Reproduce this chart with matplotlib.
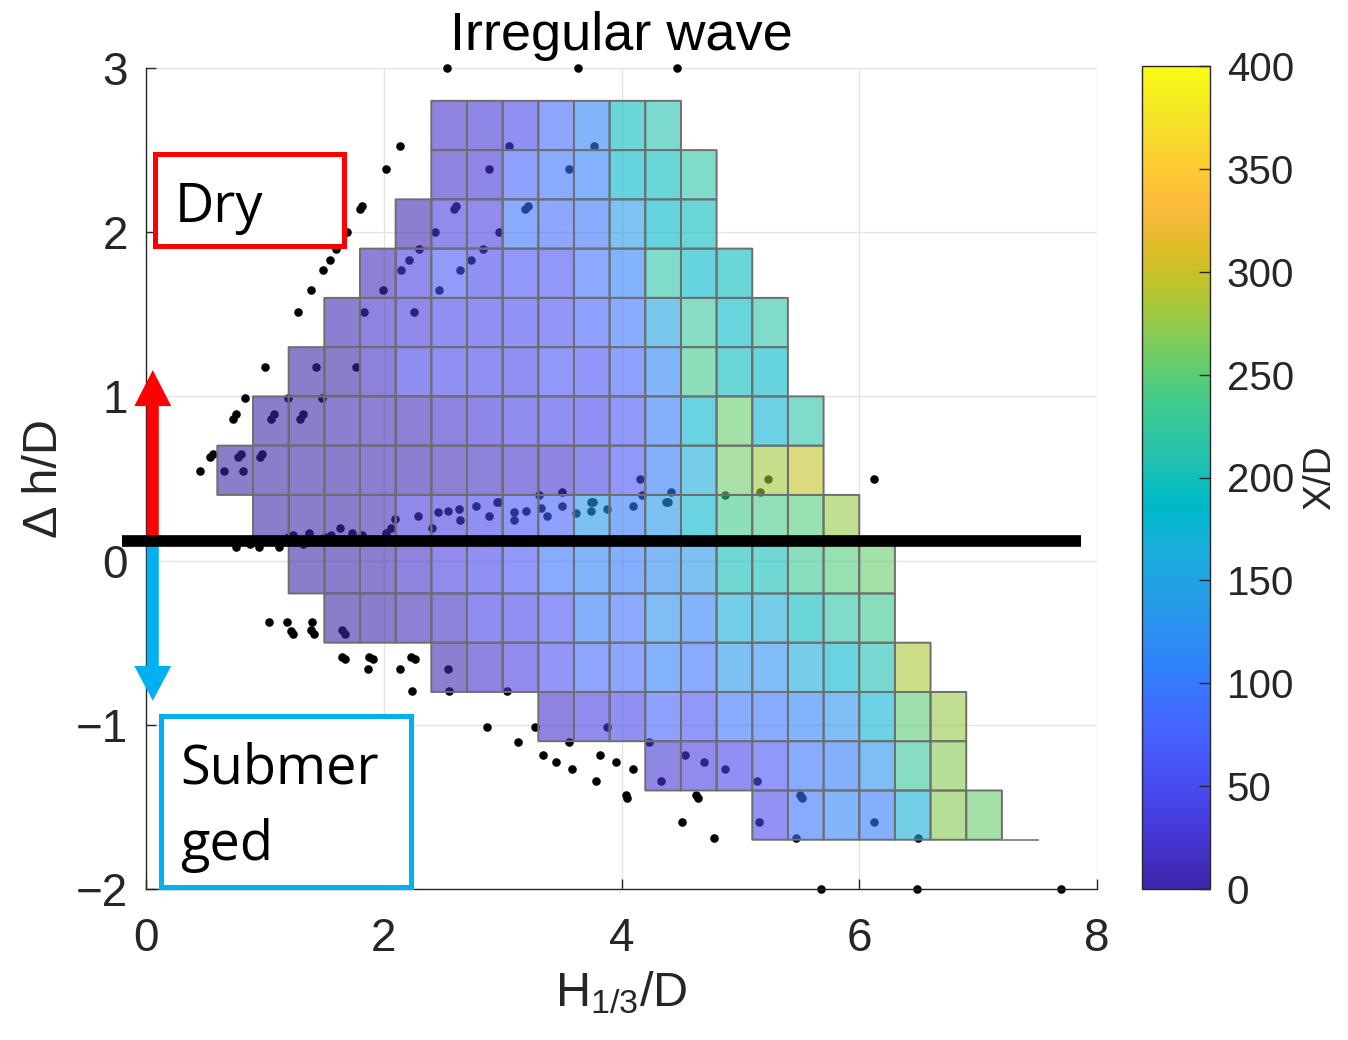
import numpy as np
import matplotlib
matplotlib.use('Agg')
import matplotlib.pyplot as plt
from matplotlib.colors import LinearSegmentedColormap, Normalize
from matplotlib.patches import Rectangle, FancyArrow
import matplotlib.cm as cm

plt.rcParams['font.family'] = ['Liberation Sans', 'DejaVu Sans']
plt.rcParams['mathtext.fontset'] = 'custom'
plt.rcParams['mathtext.rm'] = 'Liberation Sans'
plt.rcParams['mathtext.it'] = 'Liberation Sans:italic'

# ---------------- parula colormap (MATLAB) ----------------
PARULA = [
    [0.2422, 0.1504, 0.6603], [0.2504, 0.1650, 0.7076], [0.2578, 0.1818, 0.7511],
    [0.2647, 0.1978, 0.7952], [0.2706, 0.2147, 0.8364], [0.2751, 0.2342, 0.8710],
    [0.2783, 0.2559, 0.8991], [0.2803, 0.2782, 0.9221], [0.2813, 0.3006, 0.9414],
    [0.2810, 0.3228, 0.9579], [0.2795, 0.3447, 0.9717], [0.2760, 0.3667, 0.9829],
    [0.2699, 0.3892, 0.9906], [0.2602, 0.4123, 0.9952], [0.2440, 0.4358, 0.9988],
    [0.2206, 0.4603, 0.9973], [0.1963, 0.4847, 0.9892], [0.1834, 0.5074, 0.9798],
    [0.1786, 0.5289, 0.9682], [0.1764, 0.5499, 0.9520], [0.1687, 0.5703, 0.9359],
    [0.1540, 0.5902, 0.9218], [0.1460, 0.6091, 0.9079], [0.1380, 0.6276, 0.8973],
    [0.1248, 0.6459, 0.8883], [0.1113, 0.6635, 0.8763], [0.0952, 0.6798, 0.8598],
    [0.0689, 0.6948, 0.8394], [0.0297, 0.7082, 0.8163], [0.0036, 0.7203, 0.7917],
    [0.0067, 0.7312, 0.7660], [0.0433, 0.7411, 0.7394], [0.0964, 0.7500, 0.7120],
    [0.1408, 0.7584, 0.6842], [0.1717, 0.7670, 0.6554], [0.1938, 0.7758, 0.6251],
    [0.2161, 0.7843, 0.5923], [0.2470, 0.7918, 0.5567], [0.2906, 0.7973, 0.5188],
    [0.3406, 0.8008, 0.4789], [0.3909, 0.8029, 0.4354], [0.4456, 0.8024, 0.3909],
    [0.5044, 0.7993, 0.3480], [0.5616, 0.7942, 0.3045], [0.6174, 0.7876, 0.2612],
    [0.6720, 0.7793, 0.2227], [0.7242, 0.7698, 0.1910], [0.7738, 0.7598, 0.1646],
    [0.8203, 0.7498, 0.1535], [0.8634, 0.7406, 0.1596], [0.9035, 0.7330, 0.1774],
    [0.9393, 0.7288, 0.2100], [0.9728, 0.7298, 0.2394], [0.9956, 0.7434, 0.2371],
    [0.9970, 0.7659, 0.2199], [0.9952, 0.7893, 0.2028], [0.9892, 0.8136, 0.1885],
    [0.9786, 0.8386, 0.1766], [0.9676, 0.8639, 0.1643], [0.9610, 0.8890, 0.1537],
    [0.9597, 0.9135, 0.1423], [0.9628, 0.9373, 0.1265], [0.9691, 0.9606, 0.1064],
    [0.9769, 0.9839, 0.0805]]
FACE_ALPHA = 0.6
parula = LinearSegmentedColormap.from_list('parula', PARULA, N=256)
parula_faces = LinearSegmentedColormap.from_list('parula_a', [c + [FACE_ALPHA] for c in PARULA], N=256)

# ---------------- data ----------------
# cell grid (0.3 x 0.3 bins): bottom edge of each row, left edge of first cell, X/D values
row_bottom = [2.5, 2.2, 1.9, 1.6, 1.3, 1.0, 0.7, 0.4, 0.1, -0.2, -0.5, -0.8, -1.1, -1.4, -1.7]
row_xstart = [2.4, 2.4, 2.1, 1.8, 1.5, 1.2, 0.9, 0.6, 0.9, 1.2, 1.5, 2.4, 3.3, 4.2, 5.1]
row_values = [
    [20, 25, 45, 80, 110, 195, 210],
    [20, 25, 75, 95, 105, 185, 195, 215],
    [5, 35, 35, 95, 85, 95, 140, 185, 195],
    [10, 35, 65, 45, 60, 60, 90, 110, 215, 185, 195],
    [5, 20, 30, 45, 45, 50, 55, 75, 95, 150, 225, 190, 215],
    [0, 0, 15, 40, 45, 45, 45, 60, 55, 75, 115, 235, 195, 185],
    [0, 0, 5, 10, 10, 20, 28, 38, 45, 45, 62, 100, 180, 255, 175, 215],
    [0, 0, 0, 2, 5, 5, 10, 15, 18, 22, 38, 58, 100, 165, 258, 280, 298],
    [0, 0, 2, 5, 30, 35, 45, 62, 75, 135, 100, 135, 180, 235, 240, 245, 275],
    [0, 3, 5, 20, 35, 45, 60, 95, 110, 100, 120, 135, 200, 200, 230, 245, 255],
    [0, 3, 10, 15, 40, 45, 60, 100, 90, 125, 110, 170, 165, 195, 215, 230],
    [5, 18, 35, 55, 80, 85, 105, 95, 135, 125, 165, 180, 205, 285],
    [20, 35, 45, 75, 60, 95, 95, 110, 125, 175, 250, 275],
    [25, 35, 45, 60, 95, 100, 130, 225, 270],
    [48, 95, 115, 100, 170, 270, 255],
]

# measured points (H1/3/D, dh/D)
pts_x = [2.53, 3.63, 4.47,
         2.14, 2.016, 1.80, 1.82, 1.693, 1.60, 1.548, 1.49, 1.39, 1.28,
         0.998, 0.835, 0.73, 0.755, 0.54, 0.56, 0.457, 0.658,
         2.884, 2.59, 2.61, 2.43, 2.30, 2.21, 2.145, 1.996, 1.83,
         1.427, 1.197, 1.055, 1.077, 0.775, 0.797, 0.818,
         3.056, 2.467, 2.64, 2.733, 2.837, 2.97, 2.257, 1.764, 1.478, 1.295, 1.317, 0.96, 0.98,
         3.77, 3.56, 3.19, 3.21,
         0.757, 0.875, 0.953, 1.121, 1.197, 1.233, 1.323, 1.371, 1.505, 1.553, 1.632, 1.73,
         1.814, 2.019, 2.06, 2.094, 2.29, 2.41, 2.453, 2.537, 2.632, 2.64, 2.775, 2.884,
         2.95, 2.97, 3.095, 3.095, 3.20, 3.32, 3.375, 3.50, 3.617, 3.74, 3.76, 3.74, 3.88,
         4.093, 4.375, 4.395,
         3.305, 3.50, 4.174, 4.155, 4.415, 4.872, 5.164, 5.236, 6.122,
         1.035, 1.183, 1.22, 1.24, 1.40, 1.39, 1.415, 1.65, 1.675, 1.645, 1.67, 1.88, 1.91,
         1.87, 2.23, 2.26, 2.14, 2.235, 2.537, 2.553, 3.033, 2.865, 3.27, 3.126, 3.34, 3.453,
         3.58, 3.56, 3.876, 3.785, 3.82, 3.95, 4.10, 4.035, 4.05, 4.233, 4.33, 4.536, 4.69,
         4.87, 4.625, 4.64, 4.505, 4.776, 5.142, 5.155, 5.50, 5.515, 5.464, 6.124, 6.492,
         5.676, 6.484, 7.70]
pts_y = [3.0, 3.0, 3.0,
         2.527, 2.383, 2.14, 2.16, 2.003, 1.90, 1.83, 1.77, 1.65, 1.514,
         1.181, 0.988, 0.86, 0.89, 0.63, 0.65, 0.548, 0.548,
         2.383, 2.14, 2.16, 2.003, 1.90, 1.83, 1.768, 1.65, 1.514,
         1.181, 0.988, 0.86, 0.89, 0.63, 0.65, 0.548,
         2.525, 1.65, 1.768, 1.83, 1.90, 2.003, 1.514, 1.181, 0.988, 0.86, 0.89, 0.63, 0.65,
         2.525, 2.383, 2.14, 2.16,
         0.085, 0.101, 0.085, 0.085, 0.146, 0.156, 0.101, 0.166, 0.146, 0.156, 0.197, 0.170,
         0.156, 0.166, 0.197, 0.252, 0.274, 0.197, 0.294, 0.304, 0.314, 0.247, 0.334, 0.274,
         0.355, 0.355, 0.294, 0.247, 0.304, 0.318, 0.274, 0.333, 0.292, 0.355, 0.355, 0.304, 0.314,
         0.333, 0.355, 0.355,
         0.397, 0.419, 0.397, 0.499, 0.419, 0.397, 0.419, 0.499, 0.499,
         -0.372, -0.372, -0.43, -0.445, -0.372, -0.425, -0.445, -0.425, -0.445, -0.585, -0.60, -0.585, -0.60,
         -0.662, -0.585, -0.60, -0.662, -0.792, -0.662, -0.792, -0.792, -1.012, -1.012, -1.107, -1.184, -1.225,
         -1.27, -1.107, -1.013, -1.34, -1.184, -1.225, -1.27, -1.43, -1.445, -1.107, -1.34, -1.184, -1.225,
         -1.27, -1.43, -1.445, -1.594, -1.688, -1.34, -1.594, -1.43, -1.445, -1.688, -1.594, -1.688,
         -2.0, -2.0, -2.0]

threshold_y = 0.12          # dry / submerged boundary
x_ticks = [0, 2, 4, 6, 8]
y_ticks = [-2, -1, 0, 1, 2, 3]
cbar_ticks = [0, 50, 100, 150, 200, 250, 300, 350, 400]

# ---------------- figure ----------------
W, H = 1348, 1040
fig = plt.figure(figsize=(W / 100, H / 100), dpi=100)
ax = fig.add_axes([146 / W, 1 - 889 / H, (1097 - 146) / W, (889 - 68) / H])
cax = fig.add_axes([1142 / W, 1 - 889 / H, (1210 - 1142) / W, (889 - 66) / H])

txt = '#262626'
TICK_FS = 33
LABEL_FS = 35

# grid of cells
x_edges = np.round(np.arange(0.6, 7.5 + 1e-9, 0.3), 2)
y_edges = np.round(np.arange(-1.7, 2.8 + 1e-9, 0.3), 2)
Z = np.full((len(y_edges) - 1, len(x_edges) - 1), np.nan)
for yb, xs, vals in zip(row_bottom, row_xstart, row_values):
    i = int(round((yb - y_edges[0]) / 0.3))
    j0 = int(round((xs - x_edges[0]) / 0.3))
    Z[i, j0:j0 + len(vals)] = vals
Zm = np.ma.masked_invalid(Z)

ax.scatter(pts_x, pts_y, s=38, color='black', zorder=2, clip_on=False, linewidths=0)
ax.pcolor(x_edges, y_edges, Zm, cmap=parula_faces, vmin=0, vmax=400,
          edgecolors='#6e6e6e', linewidth=1.4, zorder=3)
# closing edge at the bottom right of the grid
ax.plot([x_edges[-2], x_edges[-1]], [y_edges[0], y_edges[0]], color='#8a8a8a', lw=1.4, zorder=3)

ax.set_xlim(0, 8)
ax.set_ylim(-2, 3)
ax.set_xticks(x_ticks)
ax.set_yticks(y_ticks)
ax.grid(True, color='#e4e4e4', lw=1.0, zorder=0)
ax.set_axisbelow(True)
for s in ['top', 'right']:
    ax.spines[s].set_visible(False)
for s in ['left', 'bottom']:
    ax.spines[s].set_color(txt)
    ax.spines[s].set_linewidth(1.0)
ax.tick_params(direction='in', length=7, width=1.0, colors=txt, labelsize=TICK_FS)
ax.tick_params(axis='y', pad=13)
ax.tick_params(axis='x', pad=20)

ax.set_title('Irregular wave', fontsize=39, color='black', pad=13)
ax.set_xlabel(r'H$_{\mathregular{1/3}}$/D', fontsize=LABEL_FS, color=txt, labelpad=6)
ax.set_ylabel('Δ h/D', fontsize=LABEL_FS, color=txt, labelpad=6)

# arrows and boundary line
ax.add_patch(FancyArrow(0.057, threshold_y, 0, 1.16 - threshold_y, width=0.101,
                        head_width=0.311, head_length=0.219, length_includes_head=True,
                        color='#ff0000', lw=0, zorder=5, clip_on=False))
ax.add_patch(FancyArrow(0.057, threshold_y, 0, -0.853 - threshold_y, width=0.101,
                        head_width=0.311, head_length=0.211, length_includes_head=True,
                        color='#00b0f0', lw=0, zorder=5, clip_on=False))
ax.plot([-0.202, 7.864], [threshold_y, threshold_y], color='black', lw=8.4,
        solid_capstyle='butt', zorder=6, clip_on=False)

# labelled boxes
fig.patches.append(Rectangle((154.5 / W, 1 - 246.5 / H), 189 / W, 92 / H, transform=fig.transFigure,
                             fill=True, facecolor='white', edgecolor='#ff0000', lw=3.6, zorder=7))
fig.text(175 / W, 1 - 222 / H, 'Dry', fontsize=39, family=['Open Sans', 'DejaVu Sans'],
         color='black', va='baseline', ha='left', zorder=8)
fig.patches.append(Rectangle((160.5 / W, 1 - 886.5 / H), 251 / W, 171 / H, transform=fig.transFigure,
                             fill=True, facecolor='white', edgecolor='#00b0f0', lw=3.6, zorder=7))
fig.text(180 / W, 1 - 783 / H, 'Submer', fontsize=39, family=['Open Sans', 'DejaVu Sans'],
         color='black', va='baseline', ha='left', zorder=8)
fig.text(180 / W, 1 - 860 / H, 'ged', fontsize=39, family=['Open Sans', 'DejaVu Sans'],
         color='black', va='baseline', ha='left', zorder=8)

# colorbar
sm = cm.ScalarMappable(norm=Normalize(0, 400), cmap=parula)
cb = fig.colorbar(sm, cax=cax, ticks=cbar_ticks)
cb.outline.set_edgecolor(txt)
cb.outline.set_linewidth(1.0)
cax.tick_params(direction='in', length=8, width=1.0, colors=txt, labelsize=29, pad=12)
cb.set_label('X/D', fontsize=28, color=txt, labelpad=6)

fig.savefig('out.png', dpi=100)
